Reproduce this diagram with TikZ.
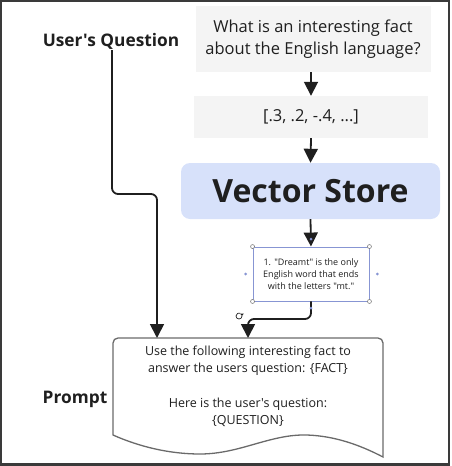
\documentclass[tikz,border=0pt]{standalone}
\usepackage{fontspec}
\setmainfont{Open Sans}[Ligatures=TeXOff]
\usetikzlibrary{arrows.meta}
\definecolor{boxgray}{HTML}{F4F4F4}
\definecolor{vsblue}{HTML}{D7E1FA}
\definecolor{selblue}{HTML}{8795D3}
\definecolor{ink}{HTML}{1F1F1F}
\definecolor{framegray}{HTML}{3A3A3A}
\definecolor{promptgray}{HTML}{6A6A6A}
\begin{document}
\begin{tikzpicture}[x=1pt,y=-1pt,
  conn/.style={draw=ink, line width=1.8pt, rounded corners=6pt, -{Triangle[width=14pt,length=14pt]}},
  graybox/.style={fill=boxgray, draw=none, minimum width=235pt, align=center, text=ink, inner sep=0pt},
  biglabel/.style={font=\bfseries\fontsize{17.3}{20}\selectfont, text=ink, inner sep=1pt},
  handle/.style={circle, draw=gray, fill=white, line width=0.6pt, inner sep=0pt, minimum size=4pt},
  bdot/.style={circle, fill=selblue, inner sep=0pt, minimum size=3pt}]
\useasboundingbox (0,0) rectangle (452,466);
\draw[framegray, line width=2.2pt] (1,1) rectangle (449,464.5);

% boxes
\node[graybox, minimum height=66pt, font=\fontsize{16.5}{22}\selectfont] (qbox) at (313,39)
  {What is an interesting fact\\about the English language?};
\node[graybox, minimum width=234pt, minimum height=42pt, font=\fontsize{16.5}{18}\selectfont] (vecbox) at (311,117)
  {[.3, .2, -.4, ...]};
\node[fill=vsblue, rounded corners=9pt, minimum width=259pt, minimum height=56pt,
  font=\bfseries\fontsize{32}{36}\selectfont, text=ink, inner sep=0pt] (vstore) at (310.5,191) {Vector Store};
\node[draw=selblue, line width=0.9pt, minimum width=116pt, minimum height=54pt, align=center,
  font=\fontsize{9}{12}\selectfont, inner sep=0pt, text=ink] (fact) at (311,274)
  {1. "Dreamt" is the only\\English word that ends\\with the letters "mt."};

% labels
\node[biglabel, anchor=base] (ql) at (111,46) {User's Question};
\node[biglabel, anchor=base] (pl) at (75,403) {Prompt};

% prompt document shape
\draw[promptgray, line width=1.3pt, fill=white]
  (113,435) -- (113,343) .. controls (113,340.2) and (115.2,338) .. (118,338)
  -- (378,338) .. controls (380.8,338) and (383,340.2) .. (383,343)
  -- (383,457) .. controls (360,445) and (335,436) .. (307,435)
  .. controls (270,434) and (240,454) .. (200,454)
  .. controls (170,454) and (140,447) .. (113,435) -- cycle;
\node[align=center, font=\fontsize{12.5}{17}\selectfont, text=ink] (prompt) at (248,386)
  {Use the following interesting fact to\\answer the users question: \{FACT\}\\[18pt]Here is the user's question:\\\{QUESTION\}};
\coordinate (pq) at (157,338);
\coordinate (pfact) at (248,338);

% connectors
\draw[conn] (qbox.south -| vecbox.north) -- (vecbox.north);
\draw[conn] (vecbox.south) -- (vstore.north);
\draw[conn] (vstore.south) -- (fact.north);
\draw[conn] (fact.south) -- (fact.south |- 0,319) -- (pfact |- 0,319) -- (pfact);
\draw[conn] (ql.south -| 112,0) -- (112,194) -- (pq |- 0,194) -- (pq);

% selection handles
\foreach \a in {north west,north east,south west,south east}
  \node[handle] at (fact.\a) {};
\node[bdot] at ([xshift=-7pt]fact.west) {};
\node[bdot] at ([xshift=8pt]fact.east) {};
\node[bdot] at (311,239) {};
\node[bdot] at (311,308) {};
% rotate icon
\draw[ink, line width=0.7pt] (242,316) arc[start angle=0, end angle=290, radius=3];
\fill[ink] (242,316) -- (240,313.5) -- (243.8,313.5) -- cycle;
\end{tikzpicture}
\end{document}
